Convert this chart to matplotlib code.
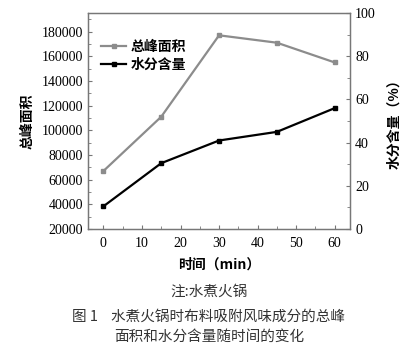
import matplotlib
matplotlib.use("Agg")
import matplotlib.pyplot as plt
from matplotlib.ticker import MultipleLocator
from matplotlib.lines import Line2D

plt.rcParams['font.family'] = 'serif'
plt.rcParams['font.serif'] = ['Liberation Serif', 'DejaVu Serif']

times = [0, 15, 30, 45, 60]
peak_area = [67000, 111000, 177000, 171000, 155000]
water = [10.5, 30.5, 41, 45, 56]

fig = plt.figure(figsize=(4.11, 3.54), dpi=100)
ax = fig.add_axes([0.214, 0.353, 0.638, 0.61])
ax2 = ax.twinx()

gray = '#8c8c8c'
ax.plot(times, peak_area, color=gray, lw=1.6, marker='s', ms=3.5)
ax2.plot(times, water, color='black', lw=1.6, marker='s', ms=3.5)

ax.set_xlim(-4, 64)
ax.set_ylim(20000, 195000)
ax.set_yticks(range(20000, 180001, 20000))
ax.yaxis.set_minor_locator(MultipleLocator(10000))
ax.xaxis.set_major_locator(MultipleLocator(10))
ax.xaxis.set_minor_locator(MultipleLocator(5))
ax2.set_ylim(0, 100)
ax2.yaxis.set_major_locator(MultipleLocator(20))
ax2.yaxis.set_minor_locator(MultipleLocator(10))

for a in (ax, ax2):
    for s in a.spines.values():
        s.set_color('#777777')
        s.set_linewidth(0.9)
    a.tick_params(which='both', direction='in', color='#777777', labelsize=10)
    a.tick_params(which='major', length=3)
    a.tick_params(which='minor', length=2)
    for lab in a.get_xticklabels() + a.get_yticklabels():
        lab.set_family('Liberation Serif')
ax.tick_params(axis='x', pad=6)

cjk = ['Noto Sans CJK SC', 'DejaVu Sans']
ax.set_ylabel('总峰面积', family=cjk, fontsize=10, fontweight='bold', labelpad=5)
ax2.set_ylabel('水分含量（%）', family=cjk, fontsize=10, fontweight='bold', labelpad=8)
ax.set_xlabel('时间（min）', family=cjk, fontsize=10, fontweight='bold', labelpad=5)

handles = [Line2D([], [], color=gray, lw=1.6, marker='s', ms=3.5),
           Line2D([], [], color='black', lw=1.6, marker='s', ms=3.5)]
ax.legend(handles, ['总峰面积', '水分含量'], loc='upper left', frameon=False,
          prop={'family': cjk, 'size': 10, 'weight': 'bold'},
          handlelength=1.8, handletextpad=0.3, labelspacing=0.25,
          borderaxespad=0, bbox_to_anchor=(0.03, 0.9))

cap = dict(family=cjk, fontsize=10.5, ha='center', va='center', color='#333333')
fig.text(0.508, 0.175, '注:水煮火锅', **cap)
fig.text(0.508, 0.104, '图 1    水煮火锅时布料吸附风味成分的总峰', **cap)
fig.text(0.508, 0.048, '面积和水分含量随时间的变化', **cap)

fig.savefig('out.png', dpi=100)
